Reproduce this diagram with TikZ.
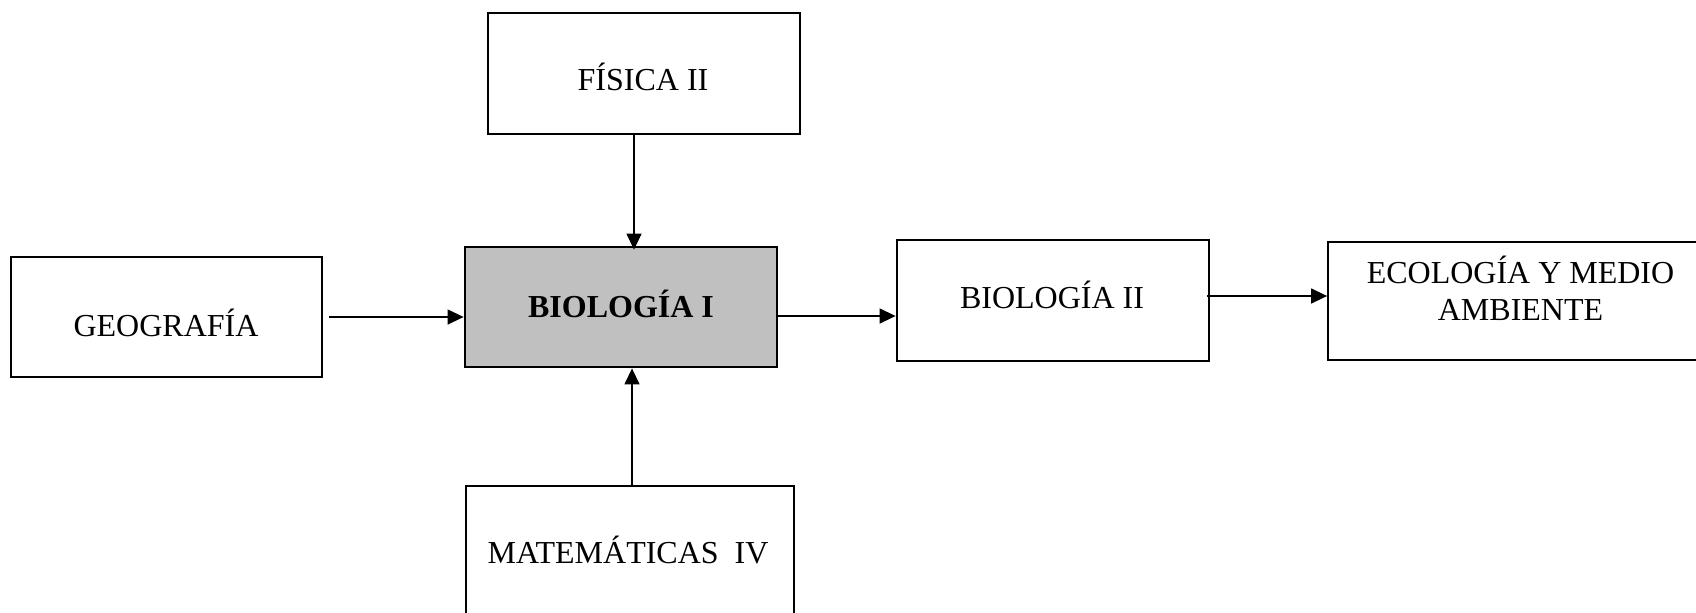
\documentclass[tikz,border=0pt]{standalone}
\usepackage{fontspec}
\setmainfont{Liberation Serif}
\usetikzlibrary{arrows.meta}
\tikzset{
  box/.style={draw=black, line width=0.9pt, rectangle, inner sep=0pt, fill=white},
  thickbox/.style={box, line width=1.4pt},
  lbl/.style={anchor=base, inner sep=0pt, font=\fontsize{16}{18.5}\selectfont},
  arr/.style={line width=0.7pt, -{Triangle[length=8pt,width=7.5pt]}}
}
\begin{document}
\begin{tikzpicture}[x=0.5pt,y=-0.5pt]
\clip (0,0) rectangle (1696,612);
\fill[white] (0,0) rectangle (1696,612);
% boxes
\node[box, minimum width=156pt, minimum height=60.5pt] (fis) at (644,73.5) {};
\node[thickbox, fill={rgb,255:red,192;green,192;blue,192}, minimum width=156pt, minimum height=60pt] (bio1) at (621,307) {};
\node[box, minimum width=155.5pt, minimum height=60pt] (geo) at (166.5,317) {};
\node[thickbox, minimum width=156pt, minimum height=60.5pt] (bio2) at (1053,300.5) {};
\node[box, minimum width=196pt, minimum height=59pt] (eco) at (1524,301) {};
\node[box, minimum width=164pt, minimum height=82pt] (mat) at (630,568) {};
% labels
\node[lbl] (tfis) at (643,90) {FÍSICA II};
\node[lbl] (tgeo) at (166,336) {GEOGRAFÍA};
\node[lbl, font=\fontsize{16}{18.5}\selectfont\bfseries] (tbio1) at (621,317) {BIOLOGÍA I};
\node[lbl] (tbio2) at (1052,308) {BIOLOGÍA II};
\node[lbl] (teco1) at (1520.5,283) {ECOLOGÍA Y MEDIO};
\node[lbl] (teco2) at (1520.5,320) {AMBIENTE};
\node[lbl] (tmat) at (628,563) {MATEMÁTICAS\ \ IV};
% connectors
\draw[arr, shorten >=-2pt] ([xshift=-5pt]fis.south) -- ([xshift=-5pt]fis.south |- bio1.north);
\draw[arr] ([xshift=1pt]mat.north) -- ([xshift=1pt]mat.north |- bio1.south);
\draw[arr] ([xshift=3pt]geo.east) -- (geo.east -| bio1.west);
\draw[arr] ([yshift=-4.5pt]bio1.east) -- ([yshift=-4.5pt]bio1.east -| bio2.west);
\draw[arr] ([xshift=-1.5pt,yshift=2.25pt]bio2.east) -- ([yshift=2.25pt]bio2.east -| eco.west);
\end{tikzpicture}
\end{document}
